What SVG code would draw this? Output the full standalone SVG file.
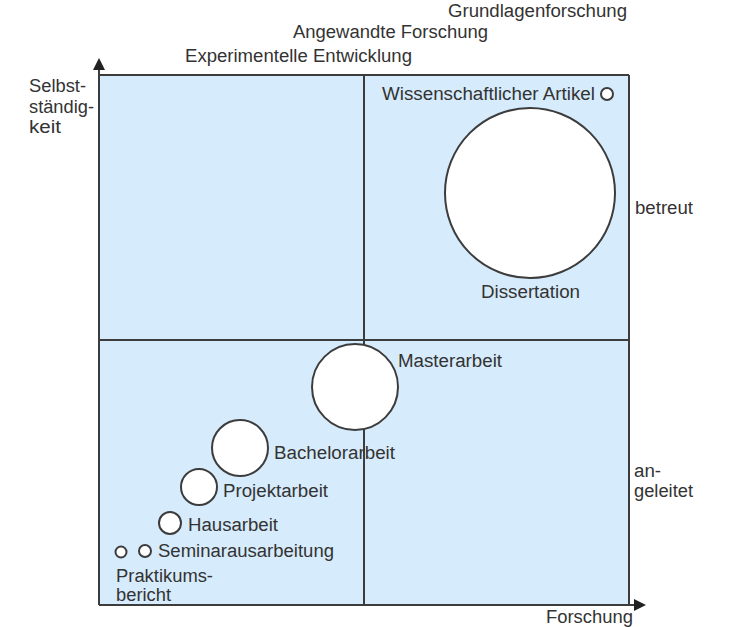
<svg xmlns="http://www.w3.org/2000/svg" width="733" height="627" viewBox="0 0 733 627">
<style>
text{font-family:"Liberation Sans",Arial,sans-serif;font-size:18px;fill:#333}
.ln{stroke:#3c3c3c;stroke-width:2;fill:none}
.c{fill:#fff;stroke:#3c3c3c;stroke-width:2}
</style>
<defs>
<marker id="ah" viewBox="0 0 12 12" refX="2" refY="6" markerWidth="12" markerHeight="12" markerUnits="userSpaceOnUse" orient="auto">
<path d="M0,0 L12,6 L0,12 Z" fill="#222"/>
</marker>
</defs>
<rect width="733" height="627" fill="#fff"/>
<g id="quadrants">
<rect x="99" y="75" width="530" height="530" fill="#d6ebfb"/>
</g>
<g id="connectors">
<line class="ln" x1="99" y1="75" x2="629" y2="75"/>
<line class="ln" x1="629" y1="75" x2="629" y2="605"/>
<line class="ln" x1="364" y1="75" x2="364" y2="605"/>
<line class="ln" x1="99" y1="340" x2="629" y2="340"/>
<line class="ln" x1="99" y1="605" x2="99" y2="68" marker-end="url(#ah)"/>
<line class="ln" x1="99" y1="605" x2="636" y2="605" marker-end="url(#ah)"/>
</g>
<g id="labels">
<text x="448" y="17" textLength="179" lengthAdjust="spacingAndGlyphs">Grundlagenforschung</text>
<text x="293" y="38" textLength="195" lengthAdjust="spacingAndGlyphs">Angewandte Forschung</text>
<text x="185" y="62" textLength="227" lengthAdjust="spacingAndGlyphs">Experimentelle Entwicklung</text>
<text x="29" y="92" textLength="57" lengthAdjust="spacingAndGlyphs">Selbst-</text>
<text x="29" y="113" textLength="65" lengthAdjust="spacingAndGlyphs">ständig-</text>
<text x="29" y="133" textLength="32" lengthAdjust="spacingAndGlyphs">keit</text>
<text x="635" y="214" textLength="58" lengthAdjust="spacingAndGlyphs">betreut</text>
<text x="634" y="477" textLength="27" lengthAdjust="spacingAndGlyphs">an-</text>
<text x="634" y="497" textLength="59" lengthAdjust="spacingAndGlyphs">geleitet</text>
<text x="546" y="623" textLength="87" lengthAdjust="spacingAndGlyphs">Forschung</text>
</g>
<g id="artikel">
<circle class="c" cx="607" cy="94" r="6"/>
<text x="382" y="100" textLength="213" lengthAdjust="spacingAndGlyphs">Wissenschaftlicher Artikel</text>
</g>
<g id="dissertation">
<circle class="c" cx="530" cy="193" r="85"/>
<text x="481" y="298" textLength="99" lengthAdjust="spacingAndGlyphs">Dissertation</text>
</g>
<g id="masterarbeit">
<circle class="c" cx="355" cy="387" r="43"/>
<text x="398" y="367" textLength="104" lengthAdjust="spacingAndGlyphs">Masterarbeit</text>
</g>
<g id="bachelorarbeit">
<circle class="c" cx="240" cy="448" r="28"/>
<text x="274" y="459" textLength="121" lengthAdjust="spacingAndGlyphs">Bachelorarbeit</text>
</g>
<g id="projektarbeit">
<circle class="c" cx="199" cy="487" r="18"/>
<text x="223" y="497" textLength="105" lengthAdjust="spacingAndGlyphs">Projektarbeit</text>
</g>
<g id="hausarbeit">
<circle class="c" cx="170" cy="523" r="11"/>
<text x="188" y="531" textLength="90" lengthAdjust="spacingAndGlyphs">Hausarbeit</text>
</g>
<g id="seminarausarbeitung">
<circle class="c" cx="145" cy="551" r="6"/>
<text x="158" y="557" textLength="176" lengthAdjust="spacingAndGlyphs">Seminarausarbeitung</text>
</g>
<g id="praktikumsbericht">
<circle class="c" cx="121" cy="552" r="5.5"/>
<text x="116" y="582" textLength="97" lengthAdjust="spacingAndGlyphs">Praktikums-</text>
<text x="116" y="601" textLength="55" lengthAdjust="spacingAndGlyphs">bericht</text>
</g>
</svg>
